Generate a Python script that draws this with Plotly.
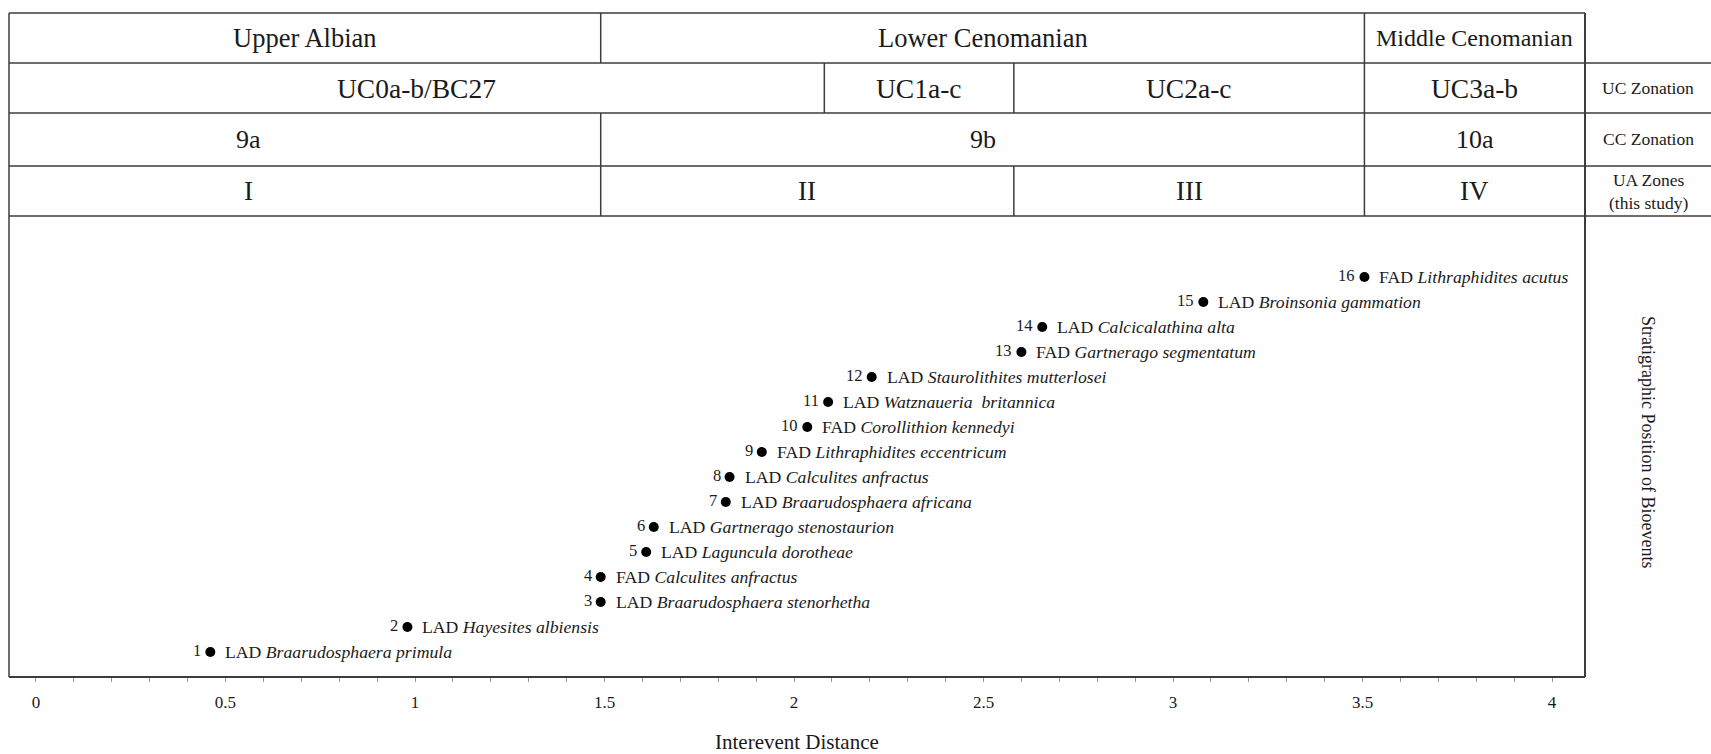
import plotly.graph_objects as go

# ---- bioevent sequence (stratigraphic order, bottom to top) ----
event_no = list(range(1, 17))
distance = [0.46, 0.98, 1.49, 1.49, 1.61, 1.63, 1.82, 1.83,
            1.915, 2.035, 2.09, 2.205, 2.60, 2.655, 3.08, 3.505]
event_type = ["LAD", "LAD", "LAD", "FAD", "LAD", "LAD", "LAD", "LAD",
              "FAD", "FAD", "LAD", "LAD", "FAD", "LAD", "LAD", "FAD"]
taxon = ["Braarudosphaera primula", "Hayesites albiensis",
         "Braarudosphaera stenorhetha", "Calculites anfractus",
         "Laguncula dorotheae", "Gartnerago stenostaurion",
         "Braarudosphaera africana", "Calculites anfractus",
         "Lithraphidites eccentricum", "Corollithion kennedyi",
         "Watznaueria  britannica", "Staurolithites mutterlosei",
         "Gartnerago segmentatum", "Calcicalathina alta",
         "Broinsonia gammation", "Lithraphidites acutus"]

x_ticks = [0, 0.5, 1, 1.5, 2, 2.5, 3, 3.5, 4]

# ---- zonation header: (label, start, end); None = edge of panel ----
stages = [("Upper Albian", None, 1.49), ("Lower Cenomanian", 1.49, 3.505),
          ("Middle Cenomanian", 3.505, None)]
uc_zones = [("UC0a-b/BC27", None, 2.08), ("UC1a-c", 2.08, 2.58),
            ("UC2a-c", 2.58, 3.505), ("UC3a-b", 3.505, None)]
cc_zones = [("9a", None, 1.49), ("9b", 1.49, 3.505), ("10a", 3.505, None)]
ua_zones = [("I", None, 1.49), ("II", 1.49, 2.58), ("III", 2.58, 3.505),
            ("IV", 3.505, None)]
row_titles = ["", "UC Zonation", "CC Zonation", "UA Zones<br>(this study)"]

# ---- page geometry (pixels) ----
W, H = 1711, 754
L, R, T, B = 9, 1585, 216, 677          # plot box
ROW_EDGES = [13, 63, 113, 166, 216]      # header row boundaries
X_MIN, X_MAX = -0.0712, 4.087
Y_MIN, Y_MAX = 0, 18.44

FONT = "Liberation Serif"
INK = "#1a1a1a"
LINE = "#3c3c3c"


def py(y_px):
    return (B - y_px) / (B - T)


def px(x_px):
    return (x_px - L) / (R - L)


fig = go.Figure()

fig.add_trace(go.Scatter(
    x=distance, y=event_no, mode="markers",
    marker=dict(size=10, color="black"),
    hoverinfo="skip", showlegend=False,
))

annotations = []
shapes = []

# event labels
for n, d, t, name in zip(event_no, distance, event_type, taxon):
    annotations.append(dict(
        x=d, y=n, xref="x", yref="y", xanchor="left", yanchor="middle",
        xshift=13, showarrow=False,
        text=f"{t} <i>{name}</i>",
        font=dict(family=FONT, size=17.7, color=INK),
    ))
    annotations.append(dict(
        x=d, y=n, xref="x", yref="y", xanchor="right", yanchor="middle",
        xshift=-7, yshift=2, showarrow=False,
        text=str(n), font=dict(family=FONT, size=16.5, color=INK),
    ))

# header rows
label_shift = {"9a": 0.56, "I": 0.56}
rows = [(stages, 26.5), (uc_zones, 27.5), (cc_zones, 26), (ua_zones, 27)]
for i, (zones, fsize) in enumerate(rows):
    y_top, y_bot = py(ROW_EDGES[i]), py(ROW_EDGES[i + 1])
    y_mid = (y_top + y_bot) / 2
    for label, start, end in zones:
        a = X_MIN if start is None else start
        b = X_MAX if end is None else end
        xc = label_shift.get(label, (a + b) / 2)
        size = 24 if label == "Middle Cenomanian" else fsize
        annotations.append(dict(
            x=xc, y=y_mid, xref="x", yref="paper", xanchor="center",
            yanchor="middle", showarrow=False, text=label,
            font=dict(family=FONT, size=size, color=INK),
        ))
        if start is not None:
            shapes.append(dict(type="line", xref="x", yref="paper",
                               x0=start, x1=start, y0=y_bot, y1=y_top,
                               line=dict(color=LINE, width=1.5)))
    if row_titles[i]:
        annotations.append(dict(
            x=px(1648), y=y_mid, xref="paper", yref="paper",
            xanchor="center", yanchor="middle", showarrow=False,
            text=row_titles[i], font=dict(family=FONT, size=17.5, color=INK),
        ))

# horizontal rules
shapes.append(dict(type="line", xref="paper", yref="paper",
                   x0=0, x1=1, y0=py(ROW_EDGES[0]), y1=py(ROW_EDGES[0]),
                   line=dict(color=LINE, width=1.5)))
for yb in ROW_EDGES[1:]:
    shapes.append(dict(type="line", xref="paper", yref="paper",
                       x0=0, x1=px(W), y0=py(yb), y1=py(yb),
                       line=dict(color=LINE, width=1.5)))
# outer frame
shapes.append(dict(type="line", xref="paper", yref="paper",
                   x0=0, x1=0, y0=0, y1=py(ROW_EDGES[0]),
                   line=dict(color=LINE, width=1.5)))
shapes.append(dict(type="line", xref="paper", yref="paper",
                   x0=1, x1=1, y0=0, y1=py(ROW_EDGES[0]),
                   line=dict(color=LINE, width=2)))
shapes.append(dict(type="line", xref="paper", yref="paper",
                   x0=0, x1=1, y0=0, y1=0,
                   line=dict(color=LINE, width=2)))

# axis titles
annotations.append(dict(
    x=0.5, y=py(742), xref="paper", yref="paper", xanchor="center",
    yanchor="middle", showarrow=False, text="Interevent Distance",
    font=dict(family=FONT, size=21, color=INK),
))
annotations.append(dict(
    x=px(1648), y=py(442), xref="paper", yref="paper", xanchor="center",
    yanchor="middle", showarrow=False, textangle=90,
    text="Stratigraphic Position of Bioevents",
    font=dict(family=FONT, size=18, color=INK),
))

fig.update_layout(
    width=W, height=H,
    margin=dict(l=L, r=W - R, t=T, b=H - B),
    paper_bgcolor="white", plot_bgcolor="white",
    showlegend=False,
    annotations=annotations, shapes=shapes,
    xaxis=dict(
        range=[X_MIN, X_MAX], tickvals=x_ticks,
        ticktext=[f"{v:g}" for v in x_ticks],
        ticks="outside", ticklen=4, tickcolor="#9a9a9a", tickwidth=1,
        ticklabelstandoff=6,
        minor=dict(tickvals=[round(k * 0.1, 1) for k in range(0, 41)],
                   ticks="outside", ticklen=4, tickcolor="#9a9a9a"),
        showgrid=False, zeroline=False, showline=False,
        tickfont=dict(family=FONT, size=17, color=INK),
        fixedrange=True,
    ),
    yaxis=dict(range=[Y_MIN, Y_MAX], visible=False, showgrid=False,
               zeroline=False, fixedrange=True),
)

fig.write_html("out.html")
